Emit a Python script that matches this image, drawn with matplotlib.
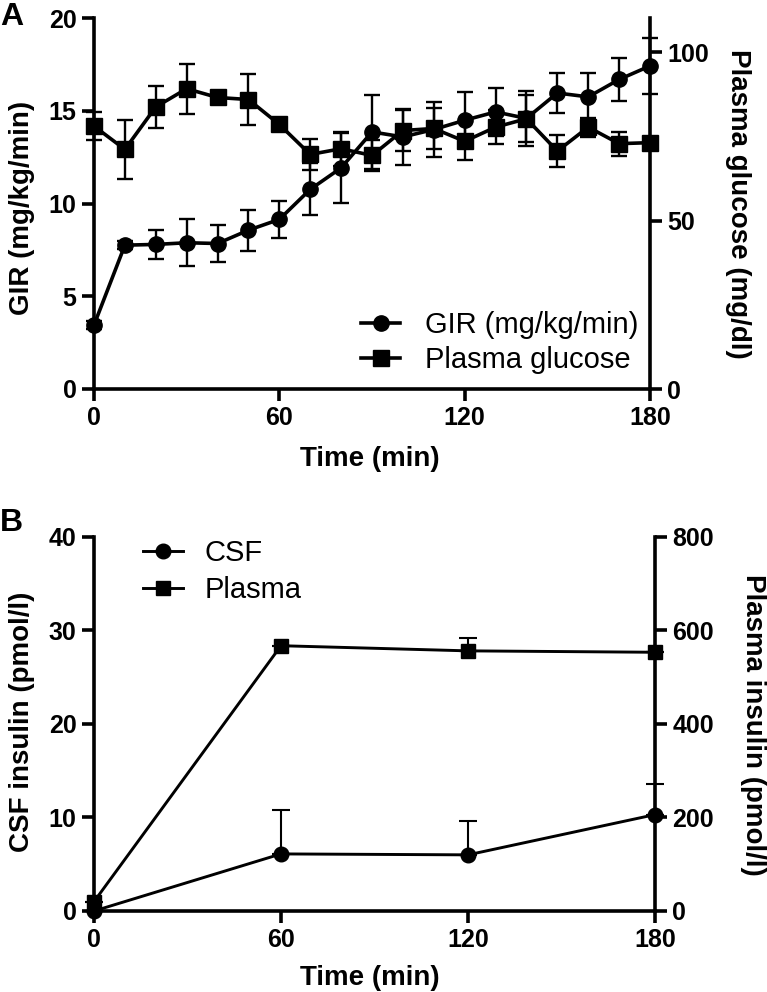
import numpy as np
import matplotlib
matplotlib.use("Agg")
import matplotlib.pyplot as plt

plt.rcParams['font.family'] = ['Liberation Sans', 'DejaVu Sans']
plt.rcParams['font.weight'] = 'bold'
plt.rcParams['axes.labelweight'] = 'bold'

# Panel A: clamp, every 10 min
time_a = [0, 10, 20, 30, 40, 50, 60, 70, 80, 90, 100, 110, 120, 130, 140, 150, 160, 170, 180]
gir = [3.45, 7.76, 7.8, 7.89, 7.85, 8.57, 9.15, 10.77, 11.93, 13.87, 13.6, 14.0, 14.5,
       14.95, 14.6, 15.97, 15.76, 16.7, 17.43]
gir_sem = [0.2, 0.2, 0.8, 1.27, 0.98, 1.1, 1.0, 1.4, 1.9, 2.0, 1.5, 1.5, 1.5,
           1.3, 1.5, 1.1, 1.3, 1.15, 1.5]
glucose = [78.0, 71.1, 83.7, 89.1, 86.5, 85.9, 78.5, 69.6, 71.3, 69.3, 76.7, 77.3, 73.5,
           77.7, 80.2, 70.6, 77.7, 72.8, 73.1]
glucose_sem = [4.2, 8.7, 6.2, 7.4, 1.5, 7.5, 1.5, 4.7, 5.0, 4.7, 6.0, 6.0, 5.6,
               5.0, 7.0, 4.7, 2.8, 3.6, 1.5]

# Panel B: insulin
time_b = [0, 60, 120, 180]
csf_insulin = [0.0, 6.1, 6.0, 10.3]
csf_sem = [0.0, 4.7, 3.6, 3.3]
plasma_insulin = [20, 567, 556, 553]
plasma_sem = [0, 0, 27, 0]

LW_AX = 2.6
FS_TICK = 18
FS_LAB = 20


def style(ax):
    ax.spines['top'].set_visible(False)
    for s in ax.spines.values():
        s.set_linewidth(LW_AX)
    ax.tick_params(direction='out', length=8.5, width=LW_AX, labelsize=FS_TICK, pad=4)


def draw_err(ax, x, y, err, lw, cap, upper_only=False):
    yerr = [np.zeros(len(err)), err] if upper_only else err
    eb = ax.errorbar(x, y, yerr=yerr, fmt='none', ecolor='k', elinewidth=lw,
                     capsize=cap, capthick=lw)
    for a in eb.lines[1] + eb.lines[2]:
        a.set_clip_on(False)


fig = plt.figure(figsize=(7.67, 9.92), dpi=100)

# ---- Panel A ----
axA = fig.add_axes([94 / 767, 1 - 389 / 992, 556 / 767, 370.7 / 992])
axA2 = axA.twinx()

draw_err(axA, time_a, gir, gir_sem, 1.7, 6)
l1, = axA.plot(time_a, gir, 'k-o', lw=2.6, ms=11, clip_on=False, zorder=3)
draw_err(axA2, time_a, glucose, glucose_sem, 1.7, 6)
l2, = axA2.plot(time_a, glucose, 'k-s', lw=2.6, ms=11, clip_on=False, zorder=3)

axA.set_xlim(0, 180)
axA.set_ylim(0, 20)
axA2.set_ylim(0, 110)
axA.set_xticks([0, 60, 120, 180])
axA.set_yticks([0, 5, 10, 15, 20])
axA2.set_yticks([0, 50, 100])
style(axA)
style(axA2)
axA.spines['right'].set_visible(False)
for s in ['left', 'bottom']:
    axA2.spines[s].set_visible(False)

axA.set_xlabel('Time (min)', fontsize=FS_LAB, fontweight='bold')
axA.xaxis.set_label_coords(0.496, -0.19)
axA.xaxis.label.set_va('center')
axA.set_ylabel('GIR (mg/kg/min)', fontsize=FS_LAB, fontweight='bold')
axA.yaxis.set_label_coords(-0.1295, 0.488)
axA.yaxis.label.set_va('center')
axA2.set_ylabel('Plasma glucose (mg/dl)', fontsize=FS_LAB, fontweight='bold', rotation=270)
axA2.yaxis.set_label_coords(1.158, 0.5)
axA2.yaxis.label.set_va('center')

axA2.legend([l1, l2], ['GIR (mg/kg/min)', 'Plasma glucose'], loc='center left',
            bbox_to_anchor=(361 / 767, 1 - 342.5 / 992), bbox_transform=fig.transFigure,
            frameon=False, prop={'size': 21, 'weight': 'normal'}, handlelength=1.34,
            handletextpad=0.86, labelspacing=0.25, borderpad=0, borderaxespad=0,
            numpoints=1)

fig.text(0.0, 1 - 17 / 992, 'A', fontsize=23, fontweight='bold', ha='left', va='center')

# ---- Panel B ----
axB = fig.add_axes([94 / 767, 1 - 911 / 992, 561 / 767, 374.3 / 992])
axB2 = axB.twinx()

draw_err(axB, time_b, csf_insulin, csf_sem, 1.5, 6.5, upper_only=True)
m1, = axB.plot(time_b, csf_insulin, 'k-o', lw=2.1, ms=10.5, clip_on=False, zorder=3)
draw_err(axB2, time_b, plasma_insulin, plasma_sem, 1.5, 6.5, upper_only=True)
m2, = axB2.plot(time_b, plasma_insulin, 'k-s', lw=2.1, ms=10.5, clip_on=False, zorder=3)

axB.set_xlim(0, 180)
axB.set_ylim(0, 40)
axB2.set_ylim(0, 800)
axB.set_xticks([0, 60, 120, 180])
axB.set_yticks([0, 10, 20, 30, 40])
axB2.set_yticks([0, 200, 400, 600, 800])
style(axB)
style(axB2)
axB.spines['right'].set_visible(False)
for s in ['left', 'bottom']:
    axB2.spines[s].set_visible(False)

axB.set_xlabel('Time (min)', fontsize=FS_LAB, fontweight='bold')
axB.xaxis.set_label_coords(0.492, -0.179)
axB.xaxis.label.set_va('center')
axB.set_ylabel('CSF insulin (pmol/l)', fontsize=FS_LAB, fontweight='bold')
axB.yaxis.set_label_coords(-0.128, 0.506)
axB.yaxis.label.set_va('center')
axB2.set_ylabel('Plasma insulin (pmol/l)', fontsize=FS_LAB, fontweight='bold', rotation=270)
axB2.yaxis.set_label_coords(1.175, 0.497)
axB2.yaxis.label.set_va('center')

axB2.legend([m1, m2], ['CSF', 'Plasma'], loc='center left',
            bbox_to_anchor=(143 / 767, 1 - 571.5 / 992), bbox_transform=fig.transFigure,
            frameon=False, prop={'size': 21, 'weight': 'normal'}, handlelength=1.37,
            handletextpad=0.75, labelspacing=0.3, borderpad=0, borderaxespad=0,
            numpoints=1)

fig.text(0.0, 1 - 523 / 992, 'B', fontsize=23, fontweight='bold', ha='left', va='center')

fig.savefig('out.png', dpi=100)
